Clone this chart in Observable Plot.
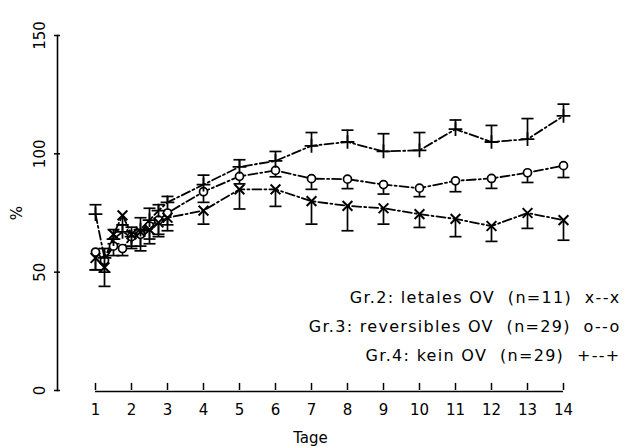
<!DOCTYPE html>
<html>
<head>
<meta charset="utf-8">
<script src="https://cdn.jsdelivr.net/npm/d3@7"></script>
<script src="https://cdn.jsdelivr.net/npm/@observablehq/plot@0.6"></script>
<style>
  html, body { margin: 0; padding: 0; background: #fff; }
  #chart { width: 628px; height: 446px; }
  .legend text { letter-spacing: 1.3px; }
</style>
</head>
<body>
<div id="chart"></div>
<script>
// ---- data ----
const days = [1, 1.25, 1.5, 1.75, 2, 2.25, 2.5, 2.75, 3, 4, 5, 6, 7, 8, 9, 10, 11, 12, 13, 14];

// Gr.2: letales OV (x markers), error bars downward
const gr2 = [56, 52, 66, 74, 66, 67, 68, 71, 73, 76, 85, 85, 80, 78, 77, 74.5, 72.5, 69.5, 75, 72];
const gr2Err = [51, 44, 62, 70, 61, 59, 62, 65, 67.5, 70.3, 76.7, 77.8, 70.3, 67.5, 70.3, 68.9, 65, 63, 68.5, 63.5];

// Gr.3: reversibles OV (o markers), error bars downward
const gr3 = [58.5, 55, 61, 60, 65, 66, 69.5, 72, 75, 84, 90.5, 93, 89.5, 89.3, 87, 85.5, 88.6, 89.6, 92, 95];
const gr3Err = [51, 50, 57, 57, 60, 61, 64, 66, 70, 79.5, 87.3, 90.3, 85, 85.3, 83, 81.9, 84, 85.4, 87.9, 90];

// Gr.4: kein OV (+ markers), error bars upward
const gr4 = [74.5, 56, 64, 67, 65, 68, 72, 76, 79.5, 87, 94.5, 97, 103.4, 105, 101, 101.5, 110.4, 105, 106.2, 116];
const gr4Err = [78.5, 60, 68, 70, 69, 73, 77, 78.5, 82, 91, 97.5, 101, 109, 110, 108.5, 109, 114.3, 112, 114.9, 121];

const xTicks = [1, 2, 3, 4, 5, 6, 7, 8, 9, 10, 11, 12, 13, 14];
const yTicks = [0, 50, 100, 150];
const legendLines = [
  "Gr.2: letales OV  (n=11)  x--x",
  "Gr.3: reversibles OV  (n=29)  o--o",
  "Gr.4: kein OV  (n=29)  +--+"
];

// ---- build table ----
const groups = [
  {name: "Gr.2", vals: gr2, err: gr2Err},
  {name: "Gr.3", vals: gr3, err: gr3Err},
  {name: "Gr.4", vals: gr4, err: gr4Err}
];
const rows = groups.flatMap(g => days.map((d, i) => ({group: g.name, day: d, v: g.vals[i], e: g.err[i]})));

// cap symbol: a short horizontal line
const capSymbol = {
  draw(context, size) {
    const w = Math.sqrt(size / Math.PI);
    context.moveTo(-w, 0);
    context.lineTo(w, 0);
  }
};

const dash = "9,3,2,3";

const chart = Plot.plot({
  width: 628,
  height: 446,
  marginLeft: 57,
  marginRight: 65,
  marginTop: 35,
  marginBottom: 56,
  x: {domain: [1, 14], range: [95, 563]},
  y: {domain: [0, 150]},
  style: {fontFamily: "DejaVu Sans, sans-serif", fontSize: "14px", background: "#fff", color: "#000"},
  marks: [
    Plot.frame({anchor: "left", stroke: "#000", strokeWidth: 1.6}),
    Plot.axisY({ticks: yTicks, tickSize: 6, dx: 3, tickRotate: -90, tickPadding: 10, fontSize: 15,
      label: "%", labelAnchor: "center", labelArrow: "none", labelOffset: 46, strokeWidth: 1.5}),
    Plot.ruleY([0], {x1: 1, x2: 14, stroke: "#000", strokeWidth: 1.6, dy: 1}),
    Plot.ruleX(xTicks, {y1: 0, y2: 3, stroke: "#000", strokeWidth: 1.5}),
    Plot.axisX({ticks: xTicks, tickSize: 0, tickPadding: 14, fontSize: 15,
      label: "Tage", labelAnchor: "center", labelArrow: "none", labelOffset: 52}),
    // error bars
    Plot.ruleX(rows, {x: "day", y1: "v", y2: "e", stroke: "#000", strokeWidth: 1.7}),
    Plot.dot(rows, {x: "day", y: "e", symbol: () => capSymbol, r: 6, stroke: "#000", strokeWidth: 1.7, fill: "none"}),
    // lines
    Plot.line(rows, {x: "day", y: "v", z: "group", stroke: "#000", strokeWidth: 1.8, strokeDasharray: dash}),
    // markers
    Plot.dot(rows.filter(d => d.group === "Gr.3"), {x: "day", y: "v", symbol: "circle", r: 4, stroke: "#000", strokeWidth: 1.7, fill: "#fff"}),
    Plot.dot(rows.filter(d => d.group === "Gr.2"), {x: "day", y: "v", symbol: "times", r: 4.5, stroke: "#000", strokeWidth: 2}),
    Plot.dot(rows.filter(d => d.group === "Gr.4"), {x: "day", y: "v", symbol: "plus", r: 4.5, stroke: "#000", strokeWidth: 1.8}),
    // legend
    Plot.text([legendLines.join("\n")], {frameAnchor: "bottom-right", textAnchor: "end", lineAnchor: "bottom",
      dx: 57, dy: -30, lineHeight: 1.8, fontSize: 16, fill: "#000", className: "legend"})
  ]
});
document.getElementById("chart").appendChild(chart);
</script>
</body>
</html>
